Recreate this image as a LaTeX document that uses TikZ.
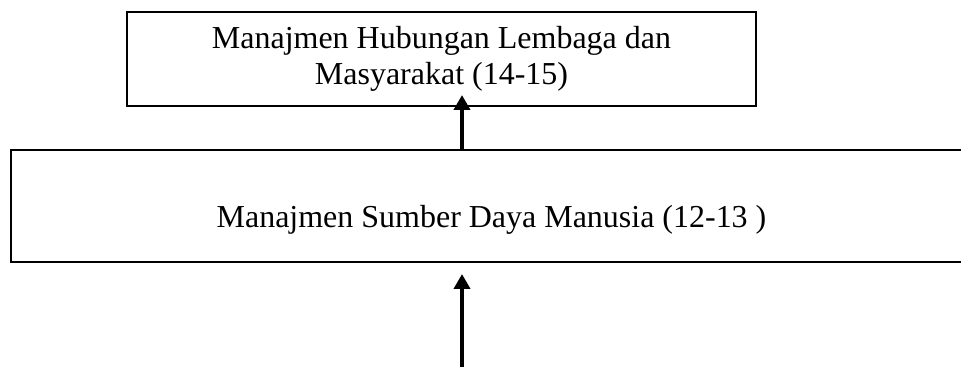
\documentclass[tikz,border=0pt]{standalone}
\usepackage{fontspec}
\setmainfont{Liberation Serif}
\usetikzlibrary{arrows.meta}
\begin{document}
\begin{tikzpicture}[x=0.02cm, y=-0.02cm, box node/.style={rectangle,draw,line width=0.85pt,inner sep=0pt}, label node/.style={font=\fontsize{18.2}{20.5}\selectfont,align=center}, up arrow/.style={line width=2.3pt,-{Triangle[length=0.3cm,width=0.32cm]}}]

                \useasboundingbox (0,0) rectangle (961,367);

                \node[box node, minimum width=12.58cm, minimum height=1.88cm] at (441.5, 59) (hub) {};
                \node[label node] at (hub.center) (hubtext) {Manajmen Hubungan Lembaga dan\\Masyarakat (14-15)};
                \node[box node, minimum width=19.22cm, minimum height=2.24cm] at (491.5, 206) (sdm) {};
                \node[label node, anchor=base] at (491.5, 228) (sdmtext) {Manajmen Sumber Daya Manusia (12-13 )};

                \coordinate (tip) at (462, 95);
                \coordinate (foot) at (462, 367);
                \coordinate (low) at (462, 274);

                \path[up arrow] (sdm.north -| tip) edge[] node {} (tip);
                \path[up arrow] (foot) edge[] node {} (low);
            \end{tikzpicture}
\end{document}
